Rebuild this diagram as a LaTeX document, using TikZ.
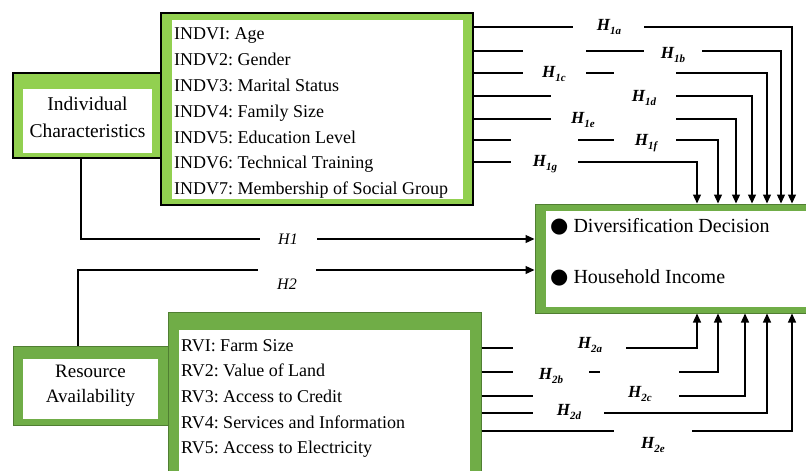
\documentclass[tikz,border=0pt]{standalone}
\usepackage{fontspec}
\setmainfont{Liberation Serif}
\newfontfamily\bulfont{DejaVu Sans}
\usetikzlibrary{arrows.meta}
\frenchspacing
\definecolor{lgreen}{HTML}{92D050}
\definecolor{dgreen}{HTML}{70AD47}
\definecolor{dkline}{HTML}{507E32}
\newcommand{\hsub}[1]{H\raisebox{-4pt}{\fontsize{11}{11}\selectfont #1}}
\tikzset{
  boxL/.style={draw=black, line width=1.4pt, fill=lgreen, inner sep=0pt},
  boxD/.style={draw=dkline, line width=1pt, fill=dgreen, inner sep=0pt},
  inwhite/.style={fill=white, draw=none, inner sep=0pt},
  itemtxt/.style={anchor=base west, inner sep=0pt, font=\fontsize{18}{21}\selectfont},
  rvtxt/.style={anchor=base west, inner sep=0pt, font=\fontsize{18}{21}\selectfont},
  headtxt/.style={align=center, inner sep=0pt, font=\fontsize{19.5}{27}\selectfont},
  outtxt/.style={anchor=base west, inner sep=0pt, font=\fontsize{20}{24}\selectfont},
  hyp/.style={inner sep=1pt, font=\fontsize{17}{18}\selectfont\bfseries\itshape},
  hypm/.style={inner sep=1pt, font=\fontsize{16}{18}\selectfont\itshape},
  conn/.style={line width=1.3pt, black},
  arr/.style={conn, -{Triangle[length=9pt,width=8pt]}},
}
\begin{document}
\begin{tikzpicture}[x=1pt,y=-1pt]
\useasboundingbox (0,0) rectangle (806,471);
\clip (0,0) rectangle (806,471);
\fill[white] (0,0) rectangle (806,471);

% Individual characteristics
\node[boxL, minimum width=148pt, minimum height=85pt] (ind) at (87,115.5) {};
\node[inwhite, minimum width=129pt, minimum height=64pt] (indin) at (87.5,121) {};
\node[headtxt] (indt) at (87.5,117) {Individual\\Characteristics};

% INDV list
\node[boxL, minimum width=312pt, minimum height=192pt] (indv) at (317,109) {};
\node[inwhite, minimum width=291pt, minimum height=179pt] (indvin) at (317.5,109.5) {};
\node[itemtxt] (i1) at (174,39) {INDVI: Age};
\node[itemtxt] (i2) at (174,65) {INDV2: Gender};
\node[itemtxt] (i3) at (174,91) {INDV3: Marital Status};
\node[itemtxt] (i4) at (174,117) {INDV4: Family Size};
\node[itemtxt] (i5) at (174,143) {INDV5: Education Level};
\node[itemtxt] (i6) at (174,168.5) {INDV6: Technical Training};
\node[itemtxt] (i7) at (174,194) {INDV7: Membership of Social Group};

% Resource availability
\node[boxD, minimum width=155pt, minimum height=79pt] (res) at (90.5,385.5) {};
\node[inwhite, minimum width=135pt, minimum height=60pt] (resin) at (90.5,389) {};
\node[headtxt, font=\fontsize{19}{25}\selectfont] (rest) at (90.5,386) {Resource\\Availability};

% RV list
\node[boxD, minimum width=313pt, minimum height=188pt] (rv) at (324.5,406) {};
\node[inwhite, minimum width=291pt, minimum height=170pt] (rvin) at (324.5,415) {};
\node[rvtxt] (r1) at (181,351) {RVI: Farm Size};
\node[rvtxt] (r2) at (181,376.5) {RV2: Value of Land};
\node[rvtxt] (r3) at (181,402) {RV3: Access to Credit};
\node[rvtxt] (r4) at (181,428) {RV4: Services and Information};
\node[rvtxt] (r5) at (181,453.5) {RV5: Access to Electricity};

% Outcome box
\node[boxD, minimum width=295pt, minimum height=109pt] (out) at (682.5,258.5) {};
\node[inwhite, minimum width=284pt, minimum height=96pt] (outin) at (688,259) {};
\node[outtxt] (o1) at (550,232) {{\bulfont\fontsize{21}{24}\selectfont ●}\hspace{5pt}Diversification Decision};
\node[outtxt] (o2) at (550,283) {{\bulfont\fontsize{21}{24}\selectfont ●}\hspace{5pt}Household Income};

% H1 and H2
\draw[conn] (ind.south -| 81,0) |- (260,239);
\draw[arr] (317,239) -- (out.west |- 0,239);
\node[hypm] (lH1) at (288,239) {H1};
\draw[conn] (res.north -| 78,0) |- (258,270);
\draw[arr] (316,270) -- (out.west |- 0,270);
\node[hypm] (lH2) at (287,284) {H2};

% H1a..H1g
\draw[conn] (indv.east |- 0,27) -- (573,27);
\draw[arr] (644,27) -| (out.north -| 792,0);
\node[hyp] (l1a) at (609,27) {\hsub{1a}};

\draw[conn] (indv.east |- 0,51) -- (523,51);
\draw[conn] (586,51) -- (644,51);
\draw[arr] (702,51) -| (out.north -| 781,0);
\node[hyp] (l1b) at (673,55) {\hsub{1b}};

\draw[conn] (indv.east |- 0,73) -- (523,73);
\draw[conn] (586,73) -- (614,73);
\draw[arr] (676,73) -| (out.north -| 767,0);
\node[hyp] (l1c) at (554,74) {\hsub{1c}};

\draw[conn] (indv.east |- 0,96) -- (551,96);
\draw[arr] (676,96) -| (out.north -| 752,0);
\node[hyp] (l1d) at (644,98) {\hsub{1d}};

\draw[conn] (indv.east |- 0,119) -- (551,119);
\draw[arr] (676,119) -| (out.north -| 736,0);
\node[hyp] (l1e) at (583,120) {\hsub{1e}};

\draw[conn] (indv.east |- 0,140) -- (511,140);
\draw[conn] (578,140) -- (614,140);
\draw[arr] (676,140) -| (out.north -| 718,0);
\node[hyp] (l1f) at (646,143) {\hsub{1f}};

\draw[conn] (indv.east |- 0,162) -- (511,162);
\draw[arr] (578,162) -| (out.north -| 697,0);
\node[hyp] (l1g) at (545,164) {\hsub{1g}};

% H2a..H2e
\draw[conn] (rv.east |- 0,348) -- (513,348);
\draw[arr] (626,348) -| (out.south -| 697,0);
\node[hyp] (l2a) at (590,345) {\hsub{2a}};

\draw[conn] (rv.east |- 0,372) -- (513,372);
\draw[conn] (589,372) -- (600,372);
\draw[arr] (679,372) -| (out.south -| 718,0);
\node[hyp] (l2b) at (551,376) {\hsub{2b}};

\draw[conn] (rv.east |- 0,396) -- (533,396);
\draw[arr] (679,396) -| (out.south -| 745,0);
\node[hyp] (l2c) at (640,394) {\hsub{2c}};

\draw[conn] (rv.east |- 0,413) -- (533,413);
\draw[arr] (604,413) -| (out.south -| 767,0);
\node[hyp] (l2d) at (569,412) {\hsub{2d}};

\draw[conn] (rv.east |- 0,431) -- (614,431);
\draw[arr] (692,431) -| (out.south -| 792,0);
\node[hyp] (l2e) at (653,445) {\hsub{2e}};
\end{tikzpicture}
\end{document}
